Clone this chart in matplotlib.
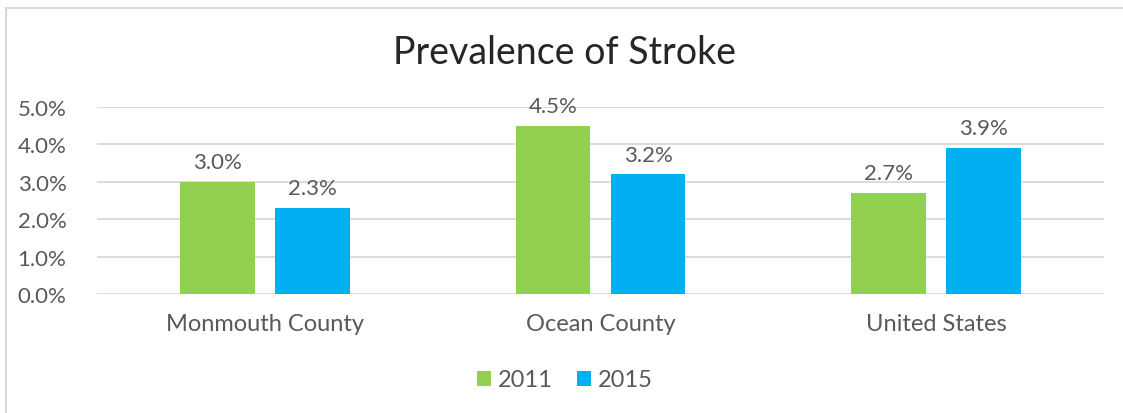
import matplotlib
matplotlib.use("Agg")
import matplotlib.pyplot as plt
from matplotlib.patches import Rectangle
from matplotlib.ticker import PercentFormatter
import numpy as np

categories = ["Monmouth County", "Ocean County", "United States"]
years = ["2011", "2015"]
vals_2011 = [3.0, 4.5, 2.7]
vals_2015 = [2.3, 3.2, 3.9]

GREEN = "#92D050"
BLUE = "#00B0F0"
TXT = "#595959"
plt.rcParams["font.family"] = ["Lato", "DejaVu Sans"]

fig = plt.figure(figsize=(11.23, 4.14), dpi=100)
ax = fig.add_axes([0.0864, 0.2874, 0.8966, 0.4517])

x = np.arange(len(categories))
w, off = 0.223, 0.1415
b1 = ax.bar(x - off, vals_2011, w, color=GREEN, label=years[0], zorder=3)
b2 = ax.bar(x + off, vals_2015, w, color=BLUE, label=years[1], zorder=3)
for bars in (b1, b2):
    ax.bar_label(bars, labels=[f"{v:.1f}%" for v in bars.datavalues],
                 padding=7, fontsize=16, color=TXT)

ax.set_xlim(-0.5, 2.5)
ax.set_ylim(0, 5)
ax.set_yticks(np.arange(0, 5.01, 1))
ax.yaxis.set_major_formatter(PercentFormatter(decimals=1))
ax.grid(axis="y", color="#D9D9D9", lw=1.3, zorder=0)
ax.set_xticks(x, categories)
ax.tick_params(axis="both", length=0, labelsize=16, labelcolor=TXT)
ax.tick_params(axis="x", pad=14, labelsize=17)
ax.tick_params(axis="y", pad=22)
for s in ax.spines.values():
    s.set_visible(False)

fig.text(0.503, 0.872, "Prevalence of Stroke", ha="center", va="center",
         fontsize=27, color="#262626")
fig.legend(loc="center", bbox_to_anchor=(0.503, 0.08), ncol=2, frameon=False,
           fontsize=17, labelcolor=TXT, handlelength=0.6, handleheight=0.6,
           handletextpad=0.3, columnspacing=1.0)

fig.patches.append(Rectangle((6 / 1123, -0.1), 1.2, 1 - 9 / 414 + 0.1,
                             transform=fig.transFigure, fill=False,
                             edgecolor="#D9D9D9", lw=1.5))
fig.savefig("out.png", dpi=100)
